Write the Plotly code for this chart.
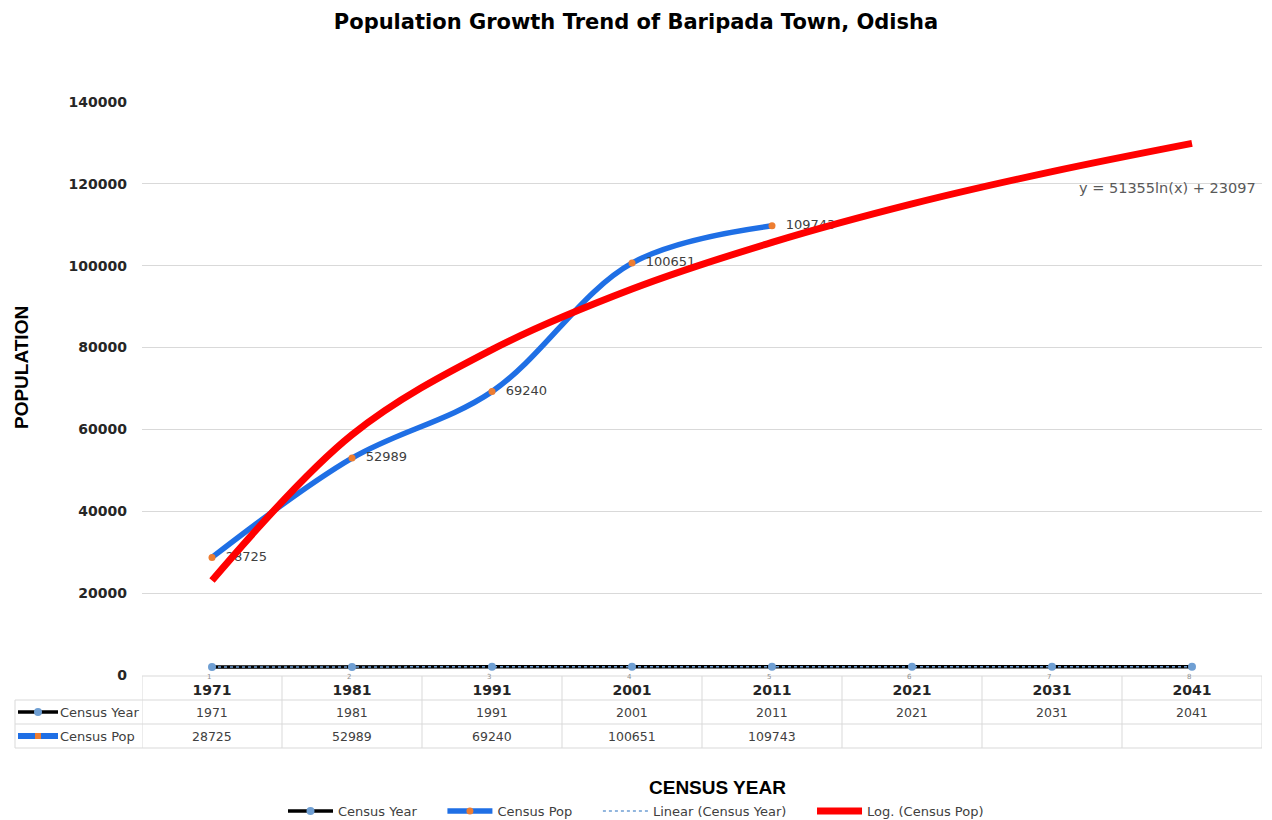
import plotly.graph_objects as go

# ---- data ----
years = ["1971", "1981", "1991", "2001", "2011", "2021", "2031", "2041"]
census_year_values = [1971, 1981, 1991, 2001, 2011, 2021, 2031, 2041]
census_pop = [28725, 52989, 69240, 100651, 109743]
linear_trend_values = [1971, 1981, 1991, 2001, 2011, 2021, 2031, 2041]
log_trend_values = [23100, 58700, 79500, 94300, 105700, 115100, 123000, 129900]
y_ticks = [0, 20000, 40000, 60000, 80000, 100000, 120000, 140000]
index_labels = ["1", "2", "3", "4", "5", "6", "7", "8"]
title_text = "Population Growth Trend of Baripada Town, Odisha"
equation_text = "y = 51355ln(x) + 23097"

# ---- layout geometry (pixels) ----
W, H = 1272, 820
L, R, T, B = 142, 1262, 102, 675


def py(p):
    return (B - p) / (B - T)


def pxp(p):
    return (p - L) / (R - L)


TEXT = "#404040"
GRID = "#d9d9d9"
BLUE = "#1f6fe5"
ORANGE = "#ed7d31"
LBLUE = "#6f9fd3"
RED = "#ff0000"
FONT = "DejaVu Sans"
NB = "\u00a0"
GAP = NB * 5

fig = go.Figure()

fig.add_trace(go.Scatter(
    x=years, y=census_year_values, name="Census Year" + GAP, mode="lines+markers",
    line=dict(color="black", width=3.5),
    marker=dict(color=LBLUE, size=8),
))
fig.add_trace(go.Scatter(
    x=years[:len(census_pop)], y=census_pop, name="Census Pop" + GAP,
    mode="lines+markers+text",
    line=dict(color=BLUE, width=5.5, shape="spline", smoothing=1.0),
    marker=dict(color=ORANGE, size=7),
    text=[NB * 2 + str(v) for v in census_pop], textposition="middle right",
    textfont=dict(family=FONT, size=13, color=TEXT),
))
fig.add_trace(go.Scatter(
    x=years, y=linear_trend_values, name="Linear (Census Year)" + GAP, mode="lines",
    line=dict(color=LBLUE, width=1.5, dash="dot"),
))
fig.add_trace(go.Scatter(
    x=years, y=log_trend_values, name="Log. (Census Pop)", mode="lines",
    line=dict(color=RED, width=7, shape="spline", smoothing=1.0),
))

shapes = []
# table horizontal lines
shapes.append(dict(type="line", xref="paper", yref="paper", x0=0, x1=1,
                   y0=py(676), y1=py(676), line=dict(color=GRID, width=1)))
for yy in [700, 724, 748]:
    shapes.append(dict(type="line", xref="paper", yref="paper", x0=pxp(15), x1=1,
                       y0=py(yy), y1=py(yy), line=dict(color=GRID, width=1)))
# table vertical lines at category boundaries
for i in range(len(years) + 1):
    shapes.append(dict(type="line", xref="x", yref="paper", x0=i - 0.5, x1=i - 0.5,
                       y0=py(676), y1=py(748), line=dict(color=GRID, width=1)))
shapes.append(dict(type="line", xref="paper", yref="paper", x0=pxp(15), x1=pxp(15),
                   y0=py(700), y1=py(748), line=dict(color=GRID, width=1)))
# legend keys in table
shapes.append(dict(type="line", xref="paper", yref="paper", x0=pxp(18), x1=pxp(58),
                   y0=py(712), y1=py(712), line=dict(color="black", width=3.5)))
shapes.append(dict(type="circle", xref="paper", yref="paper", x0=pxp(34), x1=pxp(42),
                   y0=py(716), y1=py(708), fillcolor=LBLUE, line=dict(width=0)))
shapes.append(dict(type="line", xref="paper", yref="paper", x0=pxp(18), x1=pxp(58),
                   y0=py(736), y1=py(736), line=dict(color=BLUE, width=6)))
shapes.append(dict(type="rect", xref="paper", yref="paper", x0=pxp(35), x1=pxp(41),
                   y0=py(739), y1=py(733), fillcolor=ORANGE, line=dict(width=0)))

annotations = []
# small index labels just above the header (secondary axis artefact)
for i, lab in enumerate(index_labels):
    annotations.append(dict(x=i - 0.02, xref="x", y=py(677), yref="paper", showarrow=False,
                            xanchor="center", yanchor="middle", text=lab,
                            font=dict(family=FONT, size=7, color="#8c8c8c")))
# table rows
for i in range(len(years)):
    annotations.append(dict(x=i, xref="x", y=py(712), yref="paper", showarrow=False,
                            xanchor="center", yanchor="middle",
                            text=str(census_year_values[i]),
                            font=dict(family=FONT, size=12.5, color=TEXT)))
for i, v in enumerate(census_pop):
    annotations.append(dict(x=i, xref="x", y=py(736), yref="paper", showarrow=False,
                            xanchor="center", yanchor="middle",
                            text=str(v), font=dict(family=FONT, size=12.5, color=TEXT)))
annotations.append(dict(x=pxp(58), xref="paper", y=py(712), yref="paper", showarrow=False,
                        xanchor="left", yanchor="middle", text="Census Year",
                        font=dict(family=FONT, size=13, color=TEXT)))
annotations.append(dict(x=pxp(58), xref="paper", y=py(736), yref="paper", showarrow=False,
                        xanchor="left", yanchor="middle", text="Census Pop",
                        font=dict(family=FONT, size=13, color=TEXT)))
# axis titles
annotations.append(dict(x=pxp(21), xref="paper", y=py(368), yref="paper", showarrow=False,
                        xanchor="center", yanchor="middle",
                        text="POPULATION", textangle=-90,
                        font=dict(family="Liberation Sans", size=19, color="black", weight="bold")))
annotations.append(dict(x=pxp(717), xref="paper", y=py(787), yref="paper", showarrow=False,
                        xanchor="center", yanchor="middle",
                        text="CENSUS YEAR",
                        font=dict(family="Liberation Sans", size=19, color="black", weight="bold")))
# equation
annotations.append(dict(x=pxp(1258), xref="paper", y=py(188), yref="paper", showarrow=False,
                        xanchor="right", yanchor="middle", text=equation_text,
                        font=dict(family=FONT, size=14.5, color="#595959")))

fig.update_layout(
    width=W, height=H,
    margin=dict(l=L, r=W - R, t=T, b=H - B, autoexpand=False),
    paper_bgcolor="white", plot_bgcolor="white",
    title=dict(text=title_text, x=0.5, xanchor="center", y=1 - 22 / H, yanchor="middle",
               font=dict(family=FONT, size=21, color="black", weight="bold")),
    showlegend=True,
    legend=dict(orientation="h", x=pxp(636), xanchor="center", y=py(811), yanchor="middle",
                font=dict(family=FONT, size=13, color=TEXT), bgcolor="rgba(0,0,0,0)",
                itemwidth=45),
    shapes=shapes, annotations=annotations,
)
fig.update_xaxes(type="category", range=[-0.5, len(years) - 0.5], showgrid=False,
                 showline=False, zeroline=False, ticks="", ticklabelstandoff=5,
                 tickfont=dict(family=FONT, size=14, color="#262626", weight="bold"))
fig.update_yaxes(range=[0, 140000], tickvals=y_ticks, ticktext=[str(v) for v in y_ticks],
                 showgrid=True, gridcolor=GRID, gridwidth=1, zeroline=False,
                 showline=False, ticks="", ticklabelstandoff=14,
                 tickfont=dict(family=FONT, size=14, color="#262626", weight="bold"))

fig.write_html("out.html", config={"displayModeBar": False},
               post_script="document.body.style.margin='0px';")
